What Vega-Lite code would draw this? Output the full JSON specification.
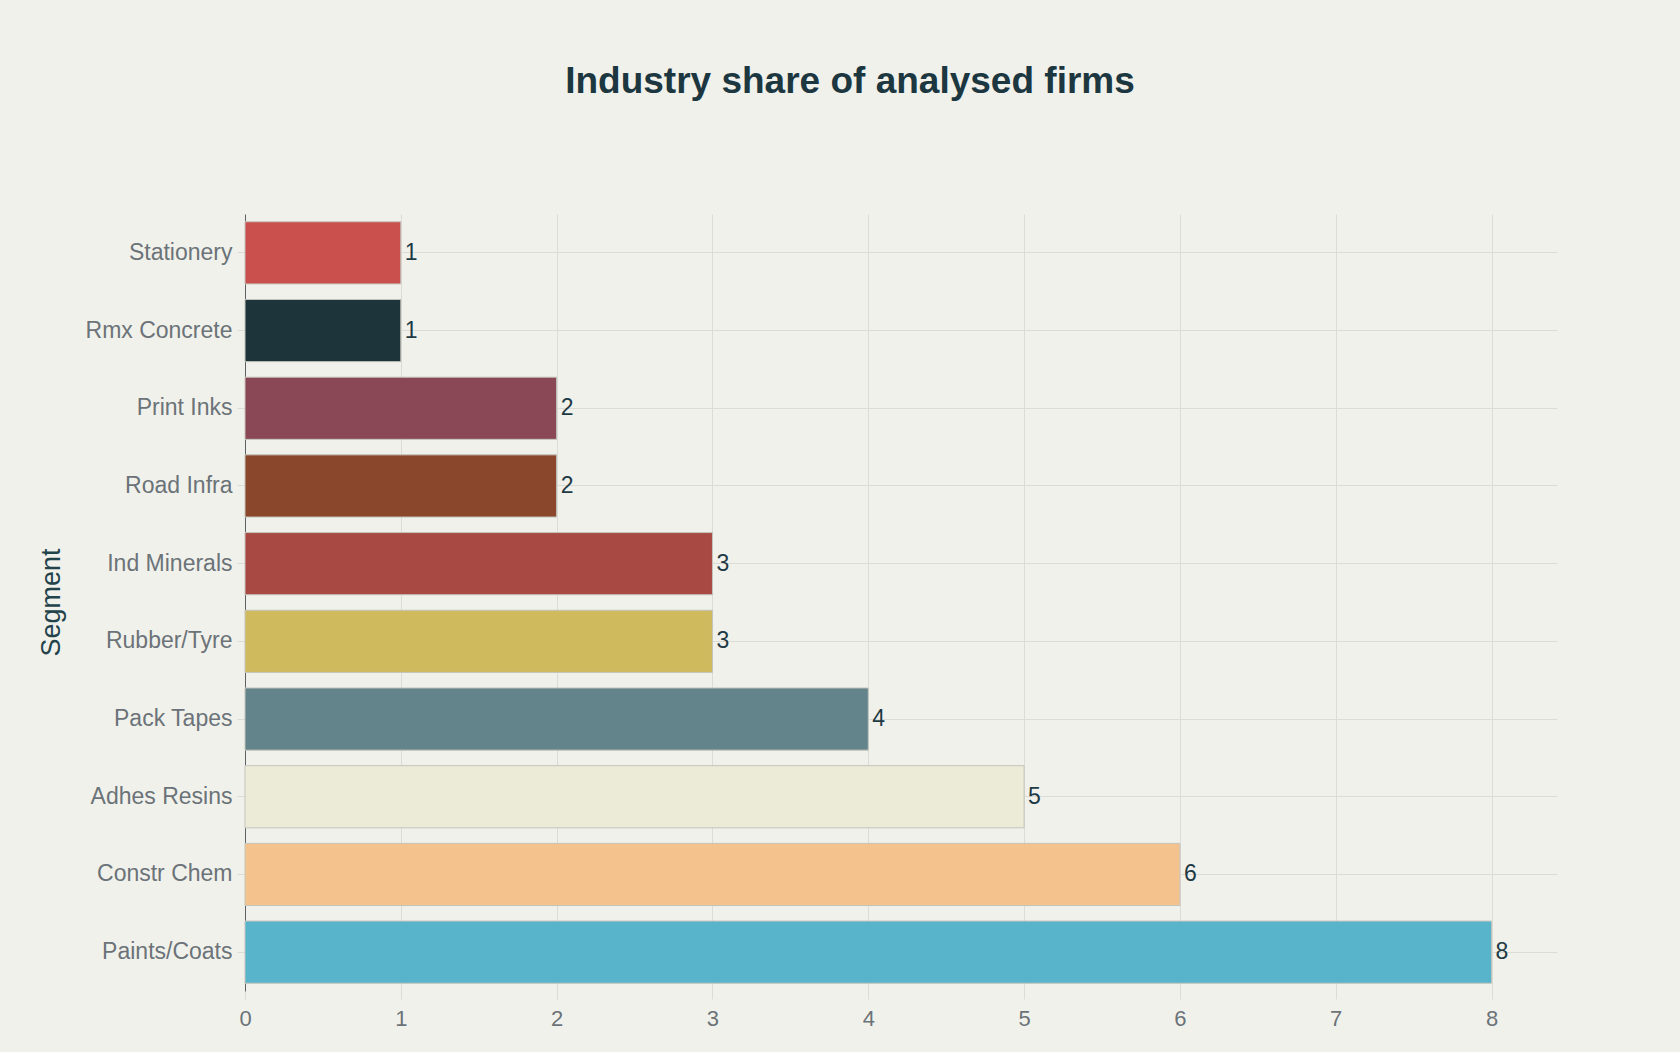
{
  "$schema": "https://vega.github.io/schema/vega-lite/v6.json",
  "width": 1312,
  "height": 777,
  "autosize": {"type": "none"},
  "padding": {"left": 245, "top": 214, "right": 123, "bottom": 61},
  "background": "#f1f1ec",
  "title": {
    "text": "Industry share of analysed firms",
    "anchor": "middle",
    "frame": "group",
    "dx": -51,
    "offset": 84,
    "baseline": "alphabetic",
    "font": "Liberation Sans",
    "fontSize": 37,
    "fontWeight": "bold",
    "color": "#1c3740"
  },
  "data": {
    "values": [
      {"Segment": "Stationery", "Count": 1},
      {"Segment": "Rmx Concrete", "Count": 1},
      {"Segment": "Print Inks", "Count": 2},
      {"Segment": "Road Infra", "Count": 2},
      {"Segment": "Ind Minerals", "Count": 3},
      {"Segment": "Rubber/Tyre", "Count": 3},
      {"Segment": "Pack Tapes", "Count": 4},
      {"Segment": "Adhes Resins", "Count": 5},
      {"Segment": "Constr Chem", "Count": 6},
      {"Segment": "Paints/Coats", "Count": 8}
    ]
  },
  "encoding": {
    "y": {
      "field": "Segment",
      "type": "nominal",
      "sort": null,
      "scale": {"paddingInner": 0.2, "paddingOuter": 0.1},
      "axis": {
        "title": "Segment",
        "bandPosition": 0.5,
        "grid": true,
        "gridColor": "#dcdcd6",
        "gridWidth": 1,
        "domain": true,
        "domainColor": "#5c6166",
        "domainWidth": 1,
        "ticks": true,
        "tickColor": "#dcdcd6",
        "tickSize": 8,
        "labelPadding": 5,
        "labelFont": "Liberation Sans",
        "labelFontSize": 23,
        "labelColor": "#6b7378",
        "titleFont": "Liberation Sans",
        "titleFontSize": 27,
        "titleFontWeight": "normal",
        "titleColor": "#23434b",
        "titleAngle": -90,
        "titleX": -194,
        "titleY": 388,
        "titleAlign": "center",
        "titleBaseline": "middle"
      }
    },
    "x": {
      "field": "Count",
      "type": "quantitative",
      "scale": {"domain": [0, 8.42], "nice": false, "zero": true},
      "axis": {
        "title": null,
        "values": [0, 1, 2, 3, 4, 5, 6, 7, 8],
        "grid": true,
        "gridColor": "#dcdcd6",
        "gridWidth": 1,
        "domain": false,
        "ticks": true,
        "tickColor": "#dcdcd6",
        "tickSize": 8,
        "labelPadding": 9,
        "labelFlush": false,
        "labelFont": "Liberation Sans",
        "labelFontSize": 22,
        "labelColor": "#6b7378"
      }
    }
  },
  "layer": [
    {
      "mark": {"type": "bar", "stroke": "#c4c4bc", "strokeWidth": 1},
      "encoding": {
        "color": {
          "field": "Segment",
          "type": "nominal",
          "legend": null,
          "scale": {
            "domain": ["Stationery", "Rmx Concrete", "Print Inks", "Road Infra", "Ind Minerals", "Rubber/Tyre", "Pack Tapes", "Adhes Resins", "Constr Chem", "Paints/Coats"],
            "range": ["#c9504c", "#1e343b", "#8a4755", "#8b472b", "#a84a43", "#cfbb5e", "#64848b", "#ecebd8", "#f4c28d", "#57b4ca"]
          }
        }
      }
    },
    {
      "mark": {
        "type": "text",
        "align": "left",
        "baseline": "middle",
        "dx": 4,
        "font": "Liberation Sans",
        "fontSize": 23,
        "color": "#1e3a44"
      },
      "encoding": {
        "text": {"field": "Count", "type": "quantitative"}
      }
    }
  ],
  "config": {
    "view": {"stroke": null}
  }
}
